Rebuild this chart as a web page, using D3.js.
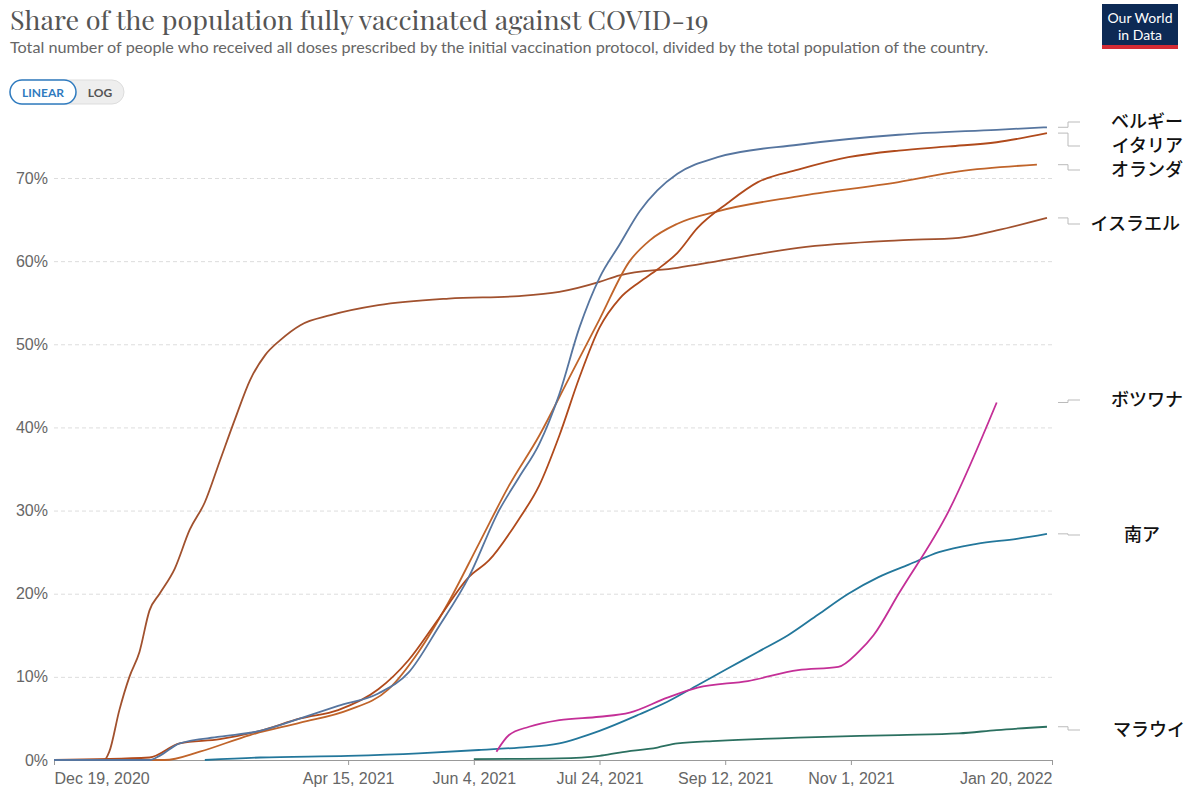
<!DOCTYPE html>
<html><head><meta charset="utf-8">
<script src="https://cdn.jsdelivr.net/npm/d3@7"></script>
<style>
body{margin:0;background:#fff;font-family:Lato,"Noto Sans",sans-serif;}
</style></head>
<body><svg id="chart" width="1200" height="806"></svg>
<script>
// days since Dec 19, 2020 and % fully vaccinated
const startDate = new Date(2020, 11, 19);
const endDate = new Date(2022, 0, 20);
const israelDays = [0,20,22,26,30,34,38,42,48,54,60,66,72,78,84,90,98,110,129,157,185,201,217,225,248,264,296,336,360,375,395];
const israelVals = [0,0,1,6,10,13,18,20,23,27.7,31,36,41,45.7,48.7,50.5,52.3,53.5,54.7,55.5,55.8,56.3,57.5,58.3,59.2,60,61.6,62.5,62.8,63.7,65.2];
const belgiumDays = [0,38,42,50,66,82,98,113,129,141,153,165,177,185,193,201,209,217,225,233,240,248,264,296,336,375,395];
const belgiumVals = [0,0,0.5,2,2.8,3.5,5,6.5,8,10.5,16,22,30,34,38,44,52,58,62,66,68.5,70.5,72.5,74,75.2,75.8,76.1];
const italyDays = [0,38,50,66,82,98,113,129,141,153,165,173,185,193,201,209,217,225,233,240,248,256,268,280,296,316,336,356,375,395];
const italyVals = [0,0.3,2,2.5,3.5,5,6,8.5,12,17,22,24,29,33,39,46,52,55.5,57.5,59,61,64,67,69.5,71,72.5,73.3,73.8,74.3,75.4];
const nlDays = [0,44,58,78,98,117,133,145,157,169,181,193,205,217,229,237,248,264,296,336,360,391];
const nlVals = [0,0,1,3,4.5,6,8.5,13,19,26,33,39,46,53,60,62.5,64.5,66,67.8,69.5,70.8,71.6];
const saDays = [60,82,117,145,169,185,201,217,233,244,256,268,280,292,304,316,328,340,352,367,383,395];
const saVals = [0,0.3,0.5,0.8,1.2,1.5,2,3.5,5.5,7,9,11,13,15,17.5,20,22,23.5,25,26,26.6,27.2];
const botswanaDays = [176,181,189,201,217,229,244,256,276,296,312,320,326,336,356,375];
const botswanaVals = [1,3,4,4.8,5.2,5.7,7.5,8.7,9.5,10.8,11.2,13,15,20,30,43];
const malawiDays = [167,201,217,225,240,248,264,296,336,360,375,395];
const malawiVals = [0.1,0.2,0.5,0.9,1.5,2,2.3,2.7,3,3.2,3.6,4];
const tickDates = ['2020-12-19','2021-04-15','2021-06-04','2021-07-24','2021-09-12','2021-11-01','2022-01-20'];
const tickLabels = ['Dec 19, 2020','Apr 15, 2021','Jun 4, 2021','Jul 24, 2021','Sep 12, 2021','Nov 1, 2021','Jan 20, 2022'];
const yTicks = [0,10,20,30,40,50,60,70];

const series = [
  {name:'イスラエル', days:israelDays, vals:israelVals, color:'#a1512e', labelY:224, labelX:1180},
  {name:'オランダ', days:nlDays, vals:nlVals, color:'#c0642a', labelY:170, labelX:1183},
  {name:'イタリア', days:italyDays, vals:italyVals, color:'#b04a1c', labelY:146, labelX:1183},
  {name:'ベルギー', days:belgiumDays, vals:belgiumVals, color:'#56759f', labelY:122, labelX:1183},
  {name:'南ア', days:saDays, vals:saVals, color:'#23779b', labelY:535, labelX:1160},
  {name:'ボツワナ', days:botswanaDays, vals:botswanaVals, color:'#c42f97', labelY:400, labelX:1183},
  {name:'マラウイ', days:malawiDays, vals:malawiVals, color:'#2b7060', labelY:730, labelX:1185},
];

const svg = d3.select('#chart');
const x = d3.scaleTime().domain([startDate, endDate]).range([54, 1052]);
const y = d3.scaleLinear().domain([0, 70]).range([760, 178]);

svg.append('text').attr('x', 10).attr('y', 30).attr('font-family', '"Playfair Display","DejaVu Serif",Georgia,serif')
  .attr('font-size', 27).attr('fill', '#555').text('Share of the population fully vaccinated against COVID-19');
svg.append('text').attr('x', 10).attr('y', 53).attr('font-size', 16.2).attr('fill', '#666')
  .text('Total number of people who received all doses prescribed by the initial vaccination protocol, divided by the total population of the country.');

// scale toggle
svg.append('rect').attr('x', 10).attr('y', 80).attr('width', 114).attr('height', 24).attr('rx', 12).attr('fill', '#eee').attr('stroke', '#ddd');
svg.append('rect').attr('x', 10).attr('y', 80).attr('width', 66).attr('height', 24).attr('rx', 12).attr('fill', '#fff').attr('stroke', '#2f7bbf').attr('stroke-width', 1.5);
svg.append('text').attr('x', 43).attr('y', 97).attr('text-anchor', 'middle').attr('font-size', 12).attr('font-weight', 'bold').attr('fill', '#2f7bbf').text('LINEAR');
svg.append('text').attr('x', 100).attr('y', 97).attr('text-anchor', 'middle').attr('font-size', 12).attr('font-weight', 'bold').attr('fill', '#555').text('LOG');

// logo
svg.append('rect').attr('x', 1102).attr('y', 4).attr('width', 76).attr('height', 44).attr('fill', '#0d2a55');
svg.append('rect').attr('x', 1102).attr('y', 45).attr('width', 76).attr('height', 4).attr('fill', '#d42b34');
svg.append('text').attr('x', 1140).attr('y', 23).attr('text-anchor', 'middle').attr('font-size', 14).attr('fill', '#fff').text('Our World');
svg.append('text').attr('x', 1140).attr('y', 40).attr('text-anchor', 'middle').attr('font-size', 14).attr('fill', '#fff').text('in Data');

// y grid
const yAxis = svg.append('g').attr('transform', 'translate(54,0)')
  .call(d3.axisLeft(y).tickValues(yTicks).tickFormat(d => d + '%').tickSize(-998).tickPadding(6));
yAxis.select('.domain').remove();
yAxis.selectAll('.tick line').attr('stroke', '#ddd').attr('stroke-dasharray', '4,3').filter(d => d === 0).remove();
yAxis.selectAll('text').attr('font-size', 16).attr('fill', '#666').attr('x', -6);

// x axis
const xAxis = svg.append('g').attr('transform', 'translate(0,760)')
  .call(d3.axisBottom(x).tickValues(tickDates.map(d => d3.timeParse('%Y-%m-%d')(d))).tickFormat((d, i) => tickLabels[i]).tickSize(5).tickPadding(8));
xAxis.select('.domain').attr('stroke', '#999');
xAxis.selectAll('.tick line').attr('stroke', '#999');
xAxis.selectAll('text').attr('font-size', 16).attr('fill', '#666')
  .attr('text-anchor', (d, i) => i === 0 ? 'start' : i === tickDates.length - 1 ? 'end' : 'middle');

const line = d3.line().x(d => x(d3.timeDay.offset(startDate, d[0]))).y(d => y(d[1])).curve(d3.curveMonotoneX);
series.forEach(s => {
  const pts = s.days.map((d, i) => [d, s.vals[i]]);
  svg.append('path').datum(pts).attr('d', line).attr('fill', 'none').attr('stroke', s.color).attr('stroke-width', 1.8);
  const ly = y(pts[pts.length - 1][1]);
  svg.append('path').attr('d', `M1058,${ly}H1068V${s.labelY}H1080`).attr('fill', 'none').attr('stroke', '#bbb');
  svg.append('text').attr('x', s.labelX).attr('y', s.labelY + 6).attr('text-anchor', 'end')
    .attr('font-family', '"Noto Sans CJK JP",sans-serif').attr('font-size', 18).attr('font-weight', 500).attr('fill', '#111').text(s.name);
});
</script></body></html>
